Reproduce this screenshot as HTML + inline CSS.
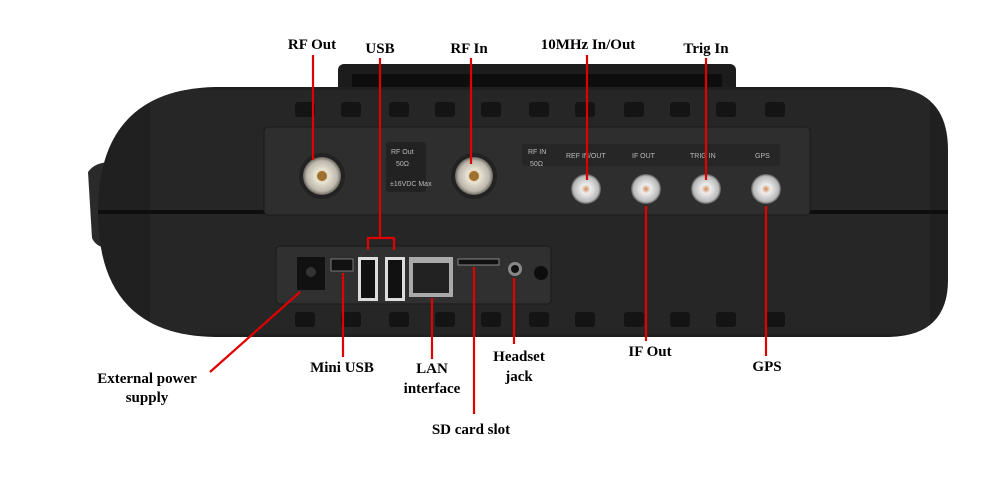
<!DOCTYPE html>
<html><head><meta charset="utf-8"><style>
body{margin:0;background:#fff;width:985px;height:501px;overflow:hidden}
svg{display:block}
text{font-family:"Liberation Serif",serif;font-weight:bold;font-size:15px;fill:#000}
.s{font-family:"Liberation Sans",sans-serif;font-weight:normal;font-size:7px;fill:#bbb}
</style></head><body>
<svg width="985" height="501" viewBox="0 0 985 501">
<defs>
<radialGradient id="n" cx="50%" cy="50%" r="50%"><stop offset="0" stop-color="#c9b27a"/><stop offset=".35" stop-color="#e8e2d0"/><stop offset=".8" stop-color="#bdb8ad"/><stop offset="1" stop-color="#6b6760"/></radialGradient>
<radialGradient id="b" cx="50%" cy="50%" r="50%"><stop offset="0" stop-color="#d08a5a"/><stop offset=".3" stop-color="#eee"/><stop offset=".85" stop-color="#b8b8b8"/><stop offset="1" stop-color="#555"/></radialGradient>
<clipPath id="bc"><path d="M215 87 L890 87 Q948 90 948 150 L948 280 Q948 335 890 337 L215 337 Q98 335 98 212 Q98 90 215 87 Z"/></clipPath>
</defs>
<!-- handle -->
<rect x="338" y="64" width="398" height="40" rx="6" fill="#1c1c1c"/>
<rect x="352" y="74" width="370" height="25" fill="#0e0e0e"/>
<!-- knob -->
<path d="M88 172 Q96 160 120 162 L124 248 Q98 252 92 238 Z" fill="#2a2a2a"/>
<!-- body -->
<g clip-path="url(#bc)">
<rect x="90" y="85" width="870" height="255" fill="#202020"/>
<rect x="150" y="90" width="780" height="244" fill="#262626"/>
<rect x="90" y="210" width="870" height="4" fill="#0e0e0e"/>
</g>
<!-- bumps -->
<g fill="#141414">
<rect x="295" y="102" width="20" height="15" rx="3"/><rect x="341" y="102" width="20" height="15" rx="3"/><rect x="389" y="102" width="20" height="15" rx="3"/><rect x="435" y="102" width="20" height="15" rx="3"/><rect x="481" y="102" width="20" height="15" rx="3"/><rect x="529" y="102" width="20" height="15" rx="3"/><rect x="575" y="102" width="20" height="15" rx="3"/><rect x="624" y="102" width="20" height="15" rx="3"/><rect x="670" y="102" width="20" height="15" rx="3"/><rect x="716" y="102" width="20" height="15" rx="3"/><rect x="765" y="102" width="20" height="15" rx="3"/>
<rect x="295" y="312" width="20" height="15" rx="3"/><rect x="341" y="312" width="20" height="15" rx="3"/><rect x="389" y="312" width="20" height="15" rx="3"/><rect x="435" y="312" width="20" height="15" rx="3"/><rect x="481" y="312" width="20" height="15" rx="3"/><rect x="529" y="312" width="20" height="15" rx="3"/><rect x="575" y="312" width="20" height="15" rx="3"/><rect x="624" y="312" width="20" height="15" rx="3"/><rect x="670" y="312" width="20" height="15" rx="3"/><rect x="716" y="312" width="20" height="15" rx="3"/><rect x="765" y="312" width="20" height="15" rx="3"/>
</g>
<!-- panels -->
<rect x="264" y="127" width="546" height="88" rx="4" fill="#2e2e2e" stroke="#1a1a1a"/>
<rect x="276" y="246" width="275" height="58" rx="4" fill="#303030" stroke="#1a1a1a"/>
<!-- upper panel content -->
<circle cx="322" cy="176" r="23" fill="#222"/>
<circle cx="322" cy="176" r="19" fill="url(#n)"/><circle cx="322" cy="176" r="5" fill="#a07030"/>
<rect x="386" y="142" width="40" height="50" rx="3" fill="#222"/>
<text class="s" x="391" y="154">RF Out</text><text class="s" x="396" y="166">50Ω</text><text class="s" x="390" y="186" font-size="5">±16VDC Max</text>
<circle cx="474" cy="176" r="23" fill="#222"/>
<circle cx="474" cy="176" r="19" fill="url(#n)"/><circle cx="474" cy="176" r="5" fill="#a07030"/>
<rect x="522" y="144" width="258" height="22" rx="3" fill="#262626"/>
<text class="s" x="528" y="154">RF IN</text><text class="s" x="530" y="166">50Ω</text>
<text class="s" x="566" y="158">REF IN/OUT</text><text class="s" x="632" y="158">IF OUT</text><text class="s" x="690" y="158">TRIG IN</text><text class="s" x="755" y="158">GPS</text>
<g><circle cx="586" cy="189" r="15" fill="url(#b)"/><circle cx="646" cy="189" r="15" fill="url(#b)"/><circle cx="706" cy="189" r="15" fill="url(#b)"/><circle cx="766" cy="189" r="15" fill="url(#b)"/></g>
<!-- lower panel content -->
<rect x="297" y="257" width="28" height="33" fill="#111"/><circle cx="311" cy="272" r="5" fill="#333"/>
<rect x="331" y="259" width="22" height="12" fill="#111" stroke="#777"/>
<rect x="358" y="257" width="20" height="44" fill="#ddd"/><rect x="361" y="260" width="14" height="38" fill="#111"/>
<rect x="385" y="257" width="20" height="44" fill="#ddd"/><rect x="388" y="260" width="14" height="38" fill="#111"/>
<rect x="409" y="257" width="44" height="40" fill="#aaa"/><rect x="413" y="263" width="36" height="30" fill="#222"/>
<rect x="458" y="259" width="41" height="6" fill="#111" stroke="#888"/>
<circle cx="515" cy="269" r="7" fill="#888"/><circle cx="515" cy="269" r="4" fill="#111"/>
<circle cx="541" cy="273" r="7" fill="#0d0d0d"/>
<!-- red leaders -->
<g stroke="#e00000" stroke-width="2.2" fill="none">
<line x1="313" y1="55" x2="313" y2="160"/>
<line x1="380" y1="58" x2="380" y2="238"/>
<polyline points="368,250 368,238 394,238 394,250"/>
<line x1="471" y1="58" x2="471" y2="164"/>
<line x1="587" y1="55" x2="587" y2="180"/>
<line x1="706" y1="58" x2="706" y2="180"/>
<line x1="646" y1="206" x2="646" y2="341"/>
<line x1="766" y1="206" x2="766" y2="356"/>
<line x1="300" y1="292" x2="210" y2="372"/>
<line x1="343" y1="273" x2="343" y2="357"/>
<line x1="432" y1="298" x2="432" y2="359"/>
<line x1="474" y1="267" x2="474" y2="414"/>
<line x1="514" y1="278" x2="514" y2="344"/>
</g>
<!-- labels -->
<text x="312" y="49" text-anchor="middle">RF Out</text>
<text x="380" y="53" text-anchor="middle">USB</text>
<text x="469" y="53" text-anchor="middle">RF In</text>
<text x="588" y="49" text-anchor="middle">10MHz In/Out</text>
<text x="706" y="53" text-anchor="middle">Trig In</text>
<text x="147" y="383" text-anchor="middle">External power</text>
<text x="147" y="402" text-anchor="middle">supply</text>
<text x="342" y="372" text-anchor="middle">Mini USB</text>
<text x="432" y="373" text-anchor="middle">LAN</text>
<text x="432" y="393" text-anchor="middle">interface</text>
<text x="519" y="361" text-anchor="middle">Headset</text>
<text x="519" y="381" text-anchor="middle">jack</text>
<text x="471" y="434" text-anchor="middle">SD card slot</text>
<text x="650" y="356" text-anchor="middle">IF Out</text>
<text x="767" y="371" text-anchor="middle">GPS</text>
</svg>
</body></html>
